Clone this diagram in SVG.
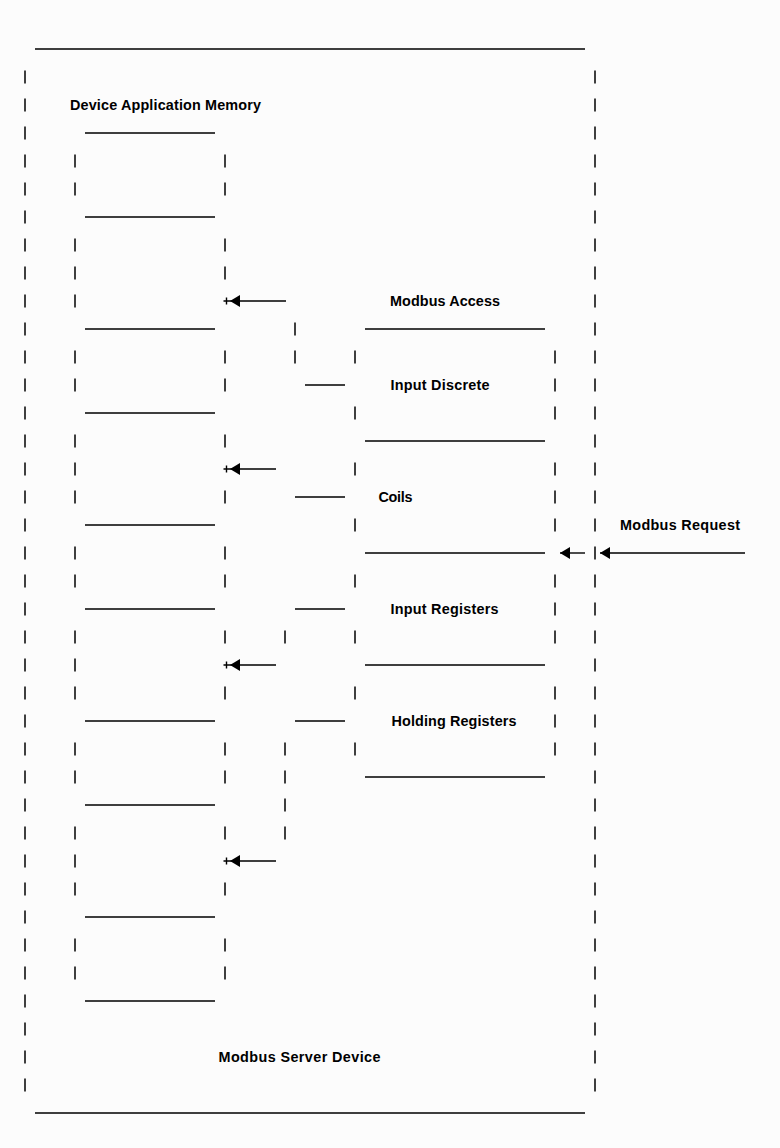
<svg xmlns="http://www.w3.org/2000/svg" width="780" height="1148" viewBox="0 0 780 1148">
  <style>
    .ln { stroke: #000; stroke-width: 1.4; fill: none; }
    .bar { stroke: #000; stroke-width: 1.5; fill: none; }
    .lbl { font-family: "Liberation Sans", Arial, sans-serif; font-weight: bold; font-size: 14.4px; fill: #000; }
  </style>
  <defs>
    <marker id="head" viewBox="0 0 10 12" refX="10" refY="6" markerWidth="10" markerHeight="12" markerUnits="userSpaceOnUse" orient="auto">
      <path d="M0,0 L10,6 L0,12 z" fill="#000"/>
    </marker>
  </defs>
  <rect width="780" height="1148" fill="#fcfcfc"/>

  <!-- outer device frame -->
  <g id="modbus-server-device">
    <path class="ln" d="M35,49 H585 M35,1113 H585"/>
    <line class="bar" x1="25" y1="70.5" x2="25" y2="1092" stroke-dasharray="13 15"/>
    <line class="bar" x1="595" y1="70.5" x2="595" y2="1092" stroke-dasharray="13 15"/>
    <text class="lbl" x="218.5" y="1061.5" textLength="162" lengthAdjust="spacing">Modbus Server Device</text>
  </g>

  <!-- application memory stack -->
  <g id="device-application-memory">
    <text class="lbl" x="70" y="109.5" textLength="191" lengthAdjust="spacing">Device Application Memory</text>
    <path class="ln" d="M85,133 H215 M85,217 H215 M85,329 H215 M85,413 H215 M85,525 H215 M85,609 H215 M85,721 H215 M85,805 H215 M85,917 H215 M85,1001 H215"/>
    <path class="bar" d="M75,154.5 v13 M75,182.5 v13 M75,238.5 v13 M75,266.5 v13 M75,294.5 v13 M75,350.5 v13 M75,378.5 v13 M75,434.5 v13 M75,462.5 v13 M75,490.5 v13 M75,546.5 v13 M75,574.5 v13 M75,630.5 v13 M75,658.5 v13 M75,686.5 v13 M75,742.5 v13 M75,770.5 v13 M75,826.5 v13 M75,854.5 v13 M75,882.5 v13 M75,938.5 v13 M75,966.5 v13"/>
    <path class="bar" d="M225,154.5 v13 M225,182.5 v13 M225,238.5 v13 M225,266.5 v13 M225,350.5 v13 M225,378.5 v13 M225,434.5 v13 M225,490.5 v13 M225,546.5 v13 M225,574.5 v13 M225,630.5 v13 M225,686.5 v13 M225,742.5 v13 M225,770.5 v13 M225,826.5 v13 M225,882.5 v13 M225,938.5 v13 M225,966.5 v13"/>
  </g>

  <!-- access block -->
  <g id="modbus-access">
    <text class="lbl" x="390" y="305.5" textLength="110" lengthAdjust="spacing">Modbus Access</text>
  </g>

  <g id="input-discrete">
    <path class="ln" d="M365,329 H545 M365,441 H545"/>
    <path class="bar" d="M355,350.5 v13 M355,406.5 v13 M555,350.5 v13 M555,378.5 v13 M555,406.5 v13"/>
    <text class="lbl" x="390.5" y="389.5" textLength="99" lengthAdjust="spacing">Input Discrete</text>
  </g>

  <g id="coils">
    <path class="ln" d="M365,553 H545"/>
    <path class="bar" d="M355,462.5 v13 M355,518.5 v13 M555,462.5 v13 M555,490.5 v13 M555,518.5 v13"/>
    <text class="lbl" x="378.5" y="501.5" textLength="34" lengthAdjust="spacing">Coils</text>
  </g>

  <g id="input-registers">
    <path class="ln" d="M365,665 H545"/>
    <path class="bar" d="M355,574.5 v13 M355,630.5 v13 M555,574.5 v13 M555,602.5 v13 M555,630.5 v13"/>
    <text class="lbl" x="390.5" y="613.5" textLength="108" lengthAdjust="spacing">Input Registers</text>
  </g>

  <g id="holding-registers">
    <path class="ln" d="M365,777 H545"/>
    <path class="bar" d="M355,686.5 v13 M355,742.5 v13 M555,686.5 v13 M555,714.5 v13 M555,742.5 v13"/>
    <text class="lbl" x="391.5" y="725.5" textLength="125" lengthAdjust="spacing">Holding Registers</text>
  </g>

  <g id="modbus-request">
    <text class="lbl" x="620" y="529.5" textLength="120" lengthAdjust="spacing">Modbus Request</text>
  </g>

  <!-- connectors -->
  <g id="connectors">
    <path class="bar" d="M295,322.5 v13 M295,350.5 v13 M285,630.5 v13 M285,742.5 v13 M285,770.5 v13 M285,798.5 v13 M285,826.5 v13"/>
    <path class="ln" d="M305,385 H345 M295,497 H345 M295,609 H345 M295,721 H345"/>
    <line class="ln" x1="286" y1="301" x2="230" y2="301" marker-end="url(#head)"/>
    <line class="ln" x1="276" y1="469" x2="230" y2="469" marker-end="url(#head)"/>
    <line class="ln" x1="276" y1="665" x2="230" y2="665" marker-end="url(#head)"/>
    <line class="ln" x1="276" y1="861" x2="230" y2="861" marker-end="url(#head)"/>
    <path class="ln" stroke-width="2" d="M223.5,301 H230 M226.5,297.5 V304.5 M223.5,469 H230 M226.5,465.5 V472.5 M223.5,665 H230 M226.5,661.5 V668.5 M223.5,861 H230 M226.5,857.5 V864.5"/>
    <line class="ln" x1="585" y1="553" x2="560" y2="553" marker-end="url(#head)"/>
    <line class="ln" x1="745" y1="553" x2="600" y2="553" marker-end="url(#head)"/>
  </g>
</svg>
